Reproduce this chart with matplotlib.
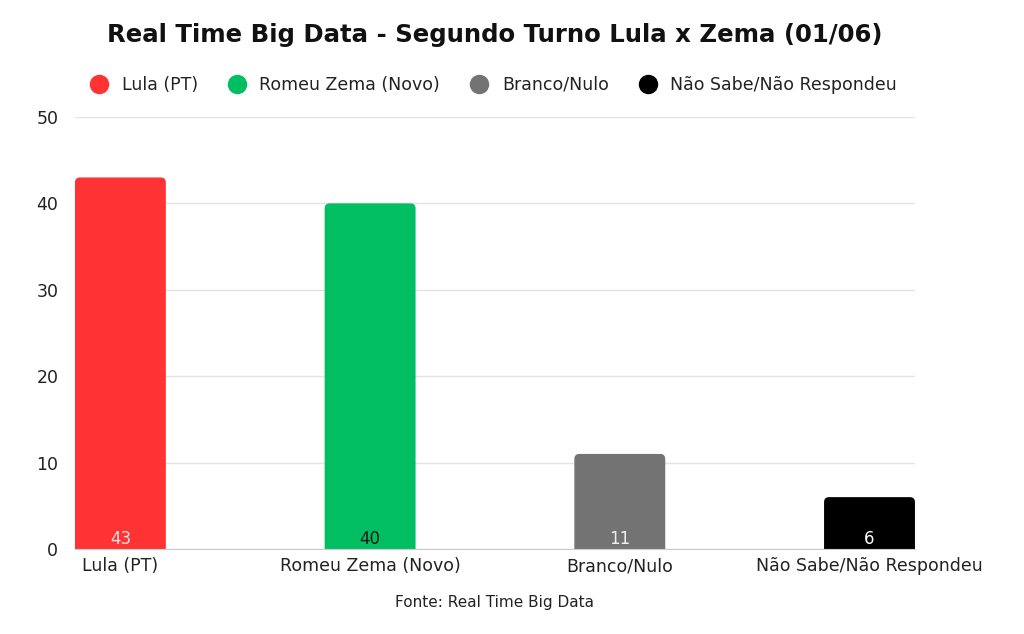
import matplotlib.pyplot as plt
from matplotlib.patches import PathPatch
from matplotlib.path import Path
from matplotlib.lines import Line2D

plt.rcParams['font.family'] = ['DejaVu Sans']

categorias = ['Lula (PT)', 'Romeu Zema (Novo)', 'Branco/Nulo', 'Não Sabe/Não Respondeu']
valores = [43, 40, 11, 6]
cores = ['#ff3333', '#00bf63', '#737373', '#000000']
cores_rotulo = ['#f5dede', '#1a1a1a', '#eeeeee', '#ffffff']

fig = plt.figure(figsize=(10.24, 6.34), dpi=100)
ax = fig.add_axes([0.0732, 0.1341, 0.8203, 0.6814])

largura = 0.364
x = list(range(len(categorias)))
barras = ax.bar(x, valores, width=largura, color=cores, zorder=2)

# cantos arredondados so em cima
px_x = 0.8203 * 1024 / (3 + largura)
px_y = 0.6814 * 634 / 50
rx, ry = 5 / px_x, 5 / px_y
for b, c in zip(barras, cores):
    b.set_visible(False)
    x0, y0 = b.get_x(), b.get_y()
    x1, y1 = x0 + b.get_width(), y0 + b.get_height()
    verts = [(x0, y0), (x0, y1 - ry), (x0, y1), (x0 + rx, y1),
             (x1 - rx, y1), (x1, y1), (x1, y1 - ry), (x1, y0), (x0, y0)]
    codes = [Path.MOVETO, Path.LINETO, Path.CURVE3, Path.CURVE3,
             Path.LINETO, Path.CURVE3, Path.CURVE3, Path.LINETO, Path.CLOSEPOLY]
    ax.add_patch(PathPatch(Path(verts, codes), facecolor=c, edgecolor='none', zorder=2))

for xi, v, cr in zip(x, valores, cores_rotulo):
    ax.text(xi, 0.1, str(v), ha='center', va='bottom', fontsize=12, color=cr, zorder=3)

ax.set_xlim(-largura / 2, 3 + largura / 2)
ax.set_ylim(0, 50)
ax.set_yticks([0, 10, 20, 30, 40, 50])
ax.set_xticks(x)
ax.set_xticklabels(categorias)
ax.tick_params(axis='both', length=0, labelsize=12.5, colors='#222222')
ax.tick_params(axis='y', pad=12)
ax.tick_params(axis='x', pad=6)
ax.grid(axis='y', color='#e3e3e3', linewidth=1, zorder=0)
for s in ['top', 'right', 'left']:
    ax.spines[s].set_visible(False)
ax.spines['bottom'].set_color('#cccccc')
ax.spines['bottom'].set_zorder(3)

handles = [Line2D([0], [0], marker='o', linestyle='none', markersize=13,
                  markerfacecolor=c, markeredgecolor=c) for c in cores]
fig.legend(handles, categorias, loc='center', bbox_to_anchor=(0.478, 0.866),
           ncol=4, frameon=False, fontsize=12.5, handletextpad=0.3,
           columnspacing=1.25, labelcolor='#222222')

fig.text(0.483, 0.945, 'Real Time Big Data - Segundo Turno Lula x Zema (01/06)',
         ha='center', va='center', fontsize=17.6, fontweight='bold', color='#111111')
fig.text(0.483, 0.049, 'Fonte: Real Time Big Data', ha='center', va='center',
         fontsize=11, color='#222222')

fig.savefig('out.png', dpi=100, facecolor='white')
